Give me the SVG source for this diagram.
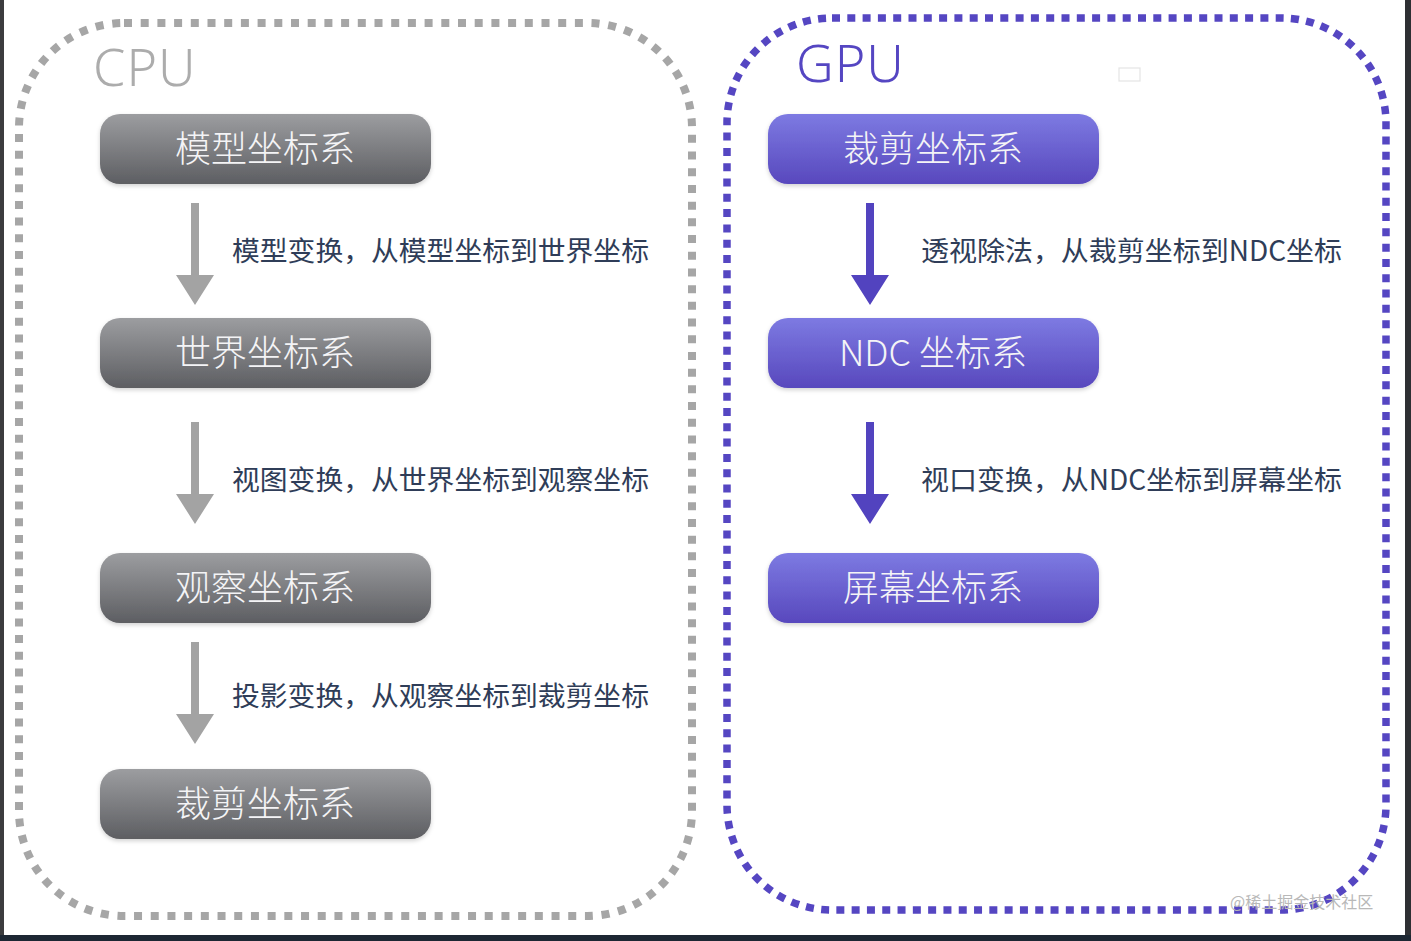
<svg xmlns="http://www.w3.org/2000/svg" width="1411" height="941" viewBox="0 0 1411 941">
<defs>
<linearGradient id="gGray" x1="0" y1="0" x2="0" y2="1">
<stop offset="0" stop-color="#9c9da0"/>
<stop offset="1" stop-color="#5d5e62"/>
</linearGradient>
<linearGradient id="gPurple" x1="0" y1="0" x2="0" y2="1">
<stop offset="0" stop-color="#7d7ae2"/>
<stop offset="1" stop-color="#5848bd"/>
</linearGradient>
<filter id="sh" x="-10%" y="-20%" width="120%" height="150%">
<feDropShadow dx="0" dy="2" stdDeviation="2" flood-color="#000" flood-opacity="0.18"/>
</filter>
<path id="arrow" d="M-4,0 L4,0 L4,72 L19,72 L0,102 L-19,72 L-4,72 Z"/>
</defs>
<style>
.node text{font-family:"Noto Sans CJK SC","Noto Sans",sans-serif;font-size:36px;font-weight:300;fill:#f4f4f6;text-anchor:middle;}
.lbl{font-family:"Noto Sans CJK SC","Noto Sans",sans-serif;font-size:27.8px;fill:#2f3d58;}
.title{font-family:"Noto Sans","Open Sans",sans-serif;font-size:52px;font-weight:300;letter-spacing:1px;}
.cpuBox{fill:none;stroke:#a6a6a6;stroke-width:8;stroke-dasharray:8 8.7;}
.gpuBox{fill:none;stroke:#5546c2;stroke-width:7.5;stroke-dasharray:8 7.3;}
.aG{fill:#a3a3a3;}
.aP{fill:#5243bf;}
</style>
<rect x="0" y="0" width="1411" height="941" fill="#ffffff"/>
<rect x="0" y="0" width="4" height="941" fill="#3c3c3e"/>
<rect x="1405" y="0" width="6" height="941" fill="#2e2f33"/>
<rect x="0" y="935" width="1411" height="6" fill="#1d2733"/>

<g id="cpu-container">
<rect class="cpuBox" x="19" y="23" width="673" height="893" rx="105" ry="105"/>
<text class="title" x="93" y="86" fill="#acacac">CPU</text>
</g>
<g id="gpu-container">
<rect class="gpuBox" x="727" y="18" width="659" height="892" rx="105" ry="105"/>
<text class="title" x="796" y="82" fill="#5546c2">GPU</text>
<rect x="1119" y="68" width="21" height="13" fill="none" stroke="#e4e4e4" stroke-width="1.2"/>
</g>

<g id="connectors">
<use href="#arrow" class="aG" x="195" y="203"/>
<use href="#arrow" class="aG" x="195" y="422"/>
<use href="#arrow" class="aG" x="195" y="642"/>
<use href="#arrow" class="aP" x="870" y="203"/>
<use href="#arrow" class="aP" x="870" y="422"/>
<text class="lbl" x="232" y="261">模型变换，从模型坐标到世界坐标</text>
<text class="lbl" x="232" y="490">视图变换，从世界坐标到观察坐标</text>
<text class="lbl" x="232" y="706">投影变换，从观察坐标到裁剪坐标</text>
<text class="lbl" x="921" y="261" textLength="421" lengthAdjust="spacingAndGlyphs">透视除法，从裁剪坐标到NDC坐标</text>
<text class="lbl" x="921" y="490" textLength="421" lengthAdjust="spacingAndGlyphs">视口变换，从NDC坐标到屏幕坐标</text>
</g>

<g id="node-model" class="node">
<rect x="100" y="114" width="331" height="70" rx="20" fill="url(#gGray)" filter="url(#sh)"/>
<text x="265" y="162">模型坐标系</text>
</g>
<g id="node-world" class="node">
<rect x="100" y="318" width="331" height="70" rx="20" fill="url(#gGray)" filter="url(#sh)"/>
<text x="265" y="366">世界坐标系</text>
</g>
<g id="node-view" class="node">
<rect x="100" y="553" width="331" height="70" rx="20" fill="url(#gGray)" filter="url(#sh)"/>
<text x="265" y="601">观察坐标系</text>
</g>
<g id="node-clip-cpu" class="node">
<rect x="100" y="769" width="331" height="70" rx="20" fill="url(#gGray)" filter="url(#sh)"/>
<text x="265" y="817">裁剪坐标系</text>
</g>
<g id="node-clip-gpu" class="node">
<rect x="768" y="114" width="331" height="70" rx="20" fill="url(#gPurple)" filter="url(#sh)"/>
<text x="933" y="162">裁剪坐标系</text>
</g>
<g id="node-ndc" class="node">
<rect x="768" y="318" width="331" height="70" rx="20" fill="url(#gPurple)" filter="url(#sh)"/>
<text x="933" y="366">NDC 坐标系</text>
</g>
<g id="node-screen" class="node">
<rect x="768" y="553" width="331" height="70" rx="20" fill="url(#gPurple)" filter="url(#sh)"/>
<text x="933" y="601">屏幕坐标系</text>
</g>

<text x="1230" y="908" font-family="Noto Sans CJK SC, sans-serif" font-size="16" fill="#b8b8b8">@稀土掘金技术社区</text>
</svg>
